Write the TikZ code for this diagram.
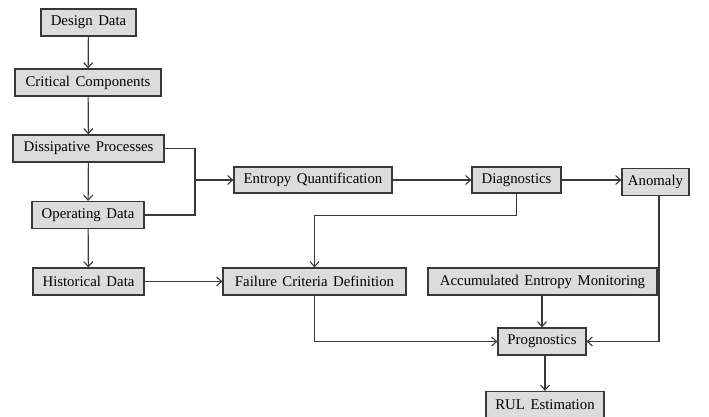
\documentclass[tikz,border=0pt]{standalone}
\usepackage{fontspec}
\setmainfont{Liberation Serif}[WordSpace={1.5,1,1}]
\usetikzlibrary{arrows.meta}
\definecolor{boxfill}{HTML}{DCDCDC}
\definecolor{boxline}{HTML}{383838}
\definecolor{conline}{HTML}{383838}
\begin{document}
\begin{tikzpicture}[x=1pt,y=-1pt,
  box/.style={draw=boxline, fill=boxfill, line width=1.2pt, rectangle, inner sep=0pt,
    minimum height=27pt, font=\fontsize{14.8}{16}\selectfont, anchor=center},
  con/.style={draw=conline, line width=1.2pt},
  arr/.style={con, -{Straight Barb[length=5pt,width=9pt,line width=1.1pt]}}]
\useasboundingbox (0,0) rectangle (709,417);
\node[box, minimum width=95pt]  (dd)   at (88.5,22.5)  {Design Data};
\node[box, minimum width=146pt] (cc)   at (88,82.5)    {Critical Components};
\node[box, minimum width=151pt] (dp)   at (88.5,148.5) {Dissipative Processes};
\node[box, minimum width=112pt] (od)   at (88,215)     {Operating Data};
\node[box, minimum width=111pt] (hd)   at (88.5,281.5) {Historical Data};
\node[box, minimum width=158pt, minimum height=26pt] (eq) at (313,180) {Entropy Quantification};
\node[box, minimum width=89pt, minimum height=26pt]  (dg) at (516.5,180) {Diagnostics};
\node[box, minimum width=67pt]  (an)   at (655.5,182)  {Anomaly};
\node[box, minimum width=183pt] (fcd)  at (314.5,281.5) {Failure Criteria Definition};
\node[box, minimum width=229pt] (aem)  at (542.5,281.5) {Accumulated Entropy Monitoring};
\node[box, minimum width=88pt]  (pg)   at (542,341.5)  {Prognostics};
\node[box, minimum width=118pt] (rul)  at (545,405)    {RUL Estimation};
\coordinate (m) at (195,180);
\draw[arr] (dd) -- (cc);
\draw[arr] (cc) -- (dp);
\draw[arr] (dp) -- (od);
\draw[arr] (od) -- (hd);
\draw[con] (dp.east) -| (m) |- (od.east);
\draw[arr] (m) -- (eq.west);
\draw[arr] (eq) -- (dg);
\draw[arr] (dg.east) -- (dg.east -| an.west);
\draw[arr] (dg.south) -- ++(0,22) -| (fcd.north);
\draw[arr] (hd) -- (fcd);
\draw[arr] (fcd.south) |- (pg.west);
\draw[arr] (aem.south -| pg.north) -- (pg.north);
\draw[arr] ([xshift=3.5pt]an.south) |- (pg.east);
\draw[arr] (pg.south -| rul.north) -- (rul.north);
\end{tikzpicture}
\end{document}
